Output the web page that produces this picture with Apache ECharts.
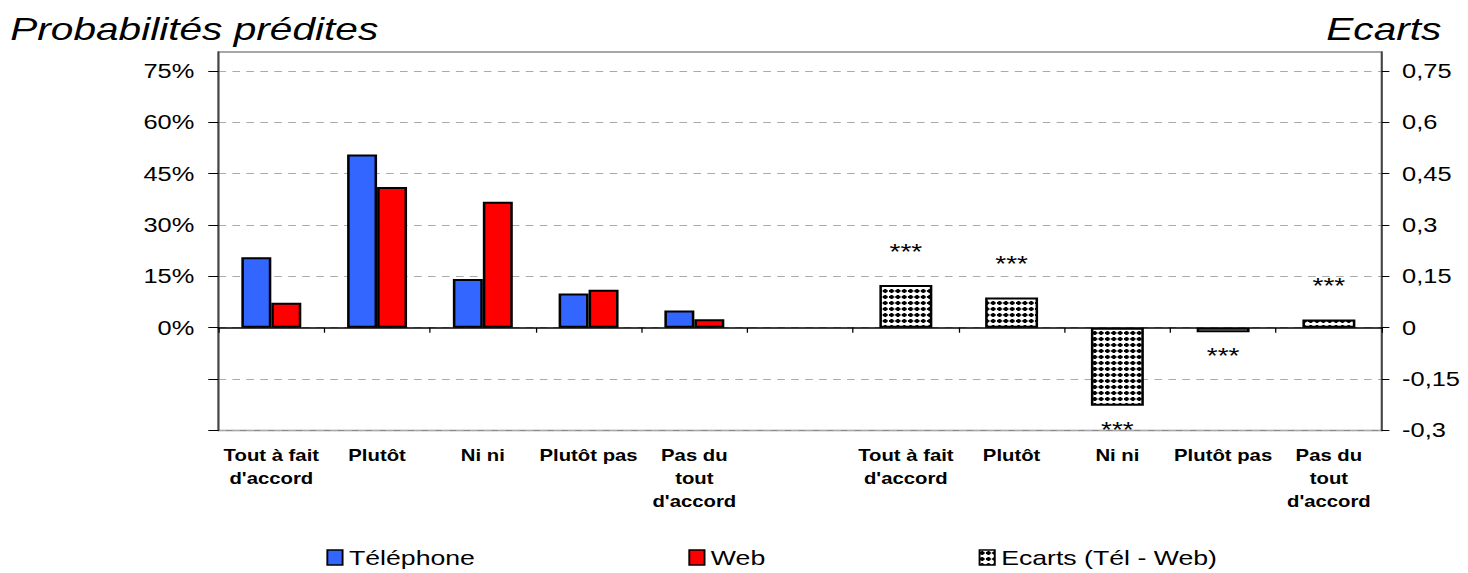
<!DOCTYPE html>
<html>
<head>
<meta charset="utf-8">
<script src="https://cdn.jsdelivr.net/npm/echarts@6/dist/echarts.min.js"></script>
<style>
  html, body { margin: 0; padding: 0; background: #fff; overflow: hidden; }
  /* the reference is stretched sideways, so the chart is drawn narrow and widened */
  #chart { width: 1156px; height: 573px; transform: scaleX(1.27); transform-origin: 0 0; }
</style>
</head>
<body>
<div id="chart"></div>
<script>
const categories = [
  "Tout à fait\nd'accord", 'Plutôt', 'Ni ni', 'Plutôt pas', "Pas du\ntout\nd'accord",
  '',
  "Tout à fait\nd'accord", 'Plutôt', 'Ni ni', 'Plutôt pas', "Pas du\ntout\nd'accord"
];
const telephone = [0.206, 0.506, 0.142, 0.100, 0.050];
const web = [0.073, 0.411, 0.368, 0.111, 0.025];
const ecarts = [0.125, 0.088, -0.228, -0.013, 0.024];
const signif = ['***', '***', '***', '***', '***'];
const yTicks = [-0.3, -0.15, 0, 0.15, 0.3, 0.45, 0.6, 0.75];

const FONT = 'Liberation Sans, Arial, sans-serif';

// dotted fill for the gap bars
function makePattern(){
  const c = document.createElement('canvas');
  c.width = 5;
  c.height = 6;
  const ctx = c.getContext('2d');
  ctx.fillStyle = '#fff';
  ctx.fillRect(0, 0, 5, 6);
  ctx.fillStyle = '#000';
  ctx.fillRect(0, 2, 4, 2);
  ctx.fillRect(1, 1, 2, 4);
  return c.toDataURL();
}
const pattern = { image: makePattern(), repeat: 'repeat' };

const empty = categories.slice(5).map(() => null);
const telData = telephone.concat(empty);
const webData = web.concat(empty);
const ecartsData = categories.slice(0, 6).map(() => null).concat(
  ecarts.map((v, i) => ({
    value: v,
    label: {
      show: true,
      position: v >= 0 ? 'top' : 'bottom',
      distance: v >= 0 ? 23 : 12,
      formatter: signif[i]
    }
  }))
);

const chart = echarts.init(document.getElementById('chart'), null, { renderer: 'svg' });

const option = {
  animation: false,
  title: [
    {
      text: 'Probabilités prédites',
      left: 8,
      top: 13,
      padding: 0,
      textStyle: { fontFamily: FONT, fontSize: 32, fontStyle: 'italic', fontWeight: 'normal', color: '#000' }
    },
    {
      text: 'Ecarts',
      right: 21,
      top: 13,
      padding: 0,
      textStyle: { fontFamily: FONT, fontSize: 32, fontStyle: 'italic', fontWeight: 'normal', color: '#000' }
    }
  ],
  legend: {
    left: 252,
    top: 542,
    itemGap: 168,
    itemWidth: 12,
    itemHeight: 15,
    icon: 'rect',
    itemStyle: { borderColor: '#000', borderWidth: 1.5 },
    textStyle: { fontFamily: FONT, fontSize: 21, color: '#000' },
    data: ['Téléphone', 'Web', 'Ecarts (Tél - Web)']
  },
  grid: {
    left: 172,
    right: 68,
    top: 52,
    bottom: 142.5,
    show: true,
    borderColor: '#8a8a8a',
    borderWidth: 1.5
  },
  xAxis: [
    {
      type: 'category',
      data: categories,
      position: 'bottom',
      axisLine: { onZero: true, lineStyle: { color: '#000', width: 1.5 } },
      axisTick: { show: true, interval: 0, length: 5, lineStyle: { color: '#000', width: 1 } },
      axisLabel: { show: false },
      splitLine: { show: false }
    },
    {
      type: 'category',
      data: categories,
      position: 'bottom',
      axisLine: { show: false, onZero: false },
      axisTick: { show: false },
      axisLabel: {
        interval: 0,
        margin: 13,
        fontFamily: FONT,
        fontSize: 16,
        fontWeight: 'bold',
        lineHeight: 23,
        color: '#000'
      },
      splitLine: { show: false }
    }
  ],
  yAxis: [
    {
      type: 'value',
      min: -0.3,
      max: 0.805,
      interval: 0.15,
      position: 'left',
      axisLine: { show: true, lineStyle: { color: '#444', width: 1.5 } },
      axisTick: { show: true, length: 8, customValues: yTicks, lineStyle: { color: '#000' } },
      axisLabel: {
        customValues: yTicks,
        margin: 19,
        fontFamily: FONT,
        fontSize: 20,
        color: '#000',
        formatter: v => v >= -0.0001 ? Math.round(v * 100) + '%' : ''
      },
      splitLine: { show: true, lineStyle: { color: '#aaa', type: [6, 5], width: 1.2 } }
    },
    {
      type: 'value',
      min: -0.3,
      max: 0.805,
      interval: 0.15,
      position: 'right',
      axisLine: { show: true, lineStyle: { color: '#444', width: 1.5 } },
      axisTick: { show: true, length: 6, customValues: yTicks, lineStyle: { color: '#000' } },
      axisLabel: {
        customValues: yTicks,
        margin: 16,
        fontFamily: FONT,
        fontSize: 20,
        color: '#000',
        formatter: v => String(Math.round(v * 100) / 100).replace('.', ',')
      },
      splitLine: { show: false }
    }
  ],
  series: [
    {
      name: 'Téléphone',
      type: 'bar',
      xAxisIndex: 0,
      yAxisIndex: 0,
      barWidth: 23.6,
      barGap: '0%',
      itemStyle: { color: '#3366ff', borderColor: '#000', borderWidth: 2 },
      data: telData
    },
    {
      name: 'Web',
      type: 'bar',
      xAxisIndex: 0,
      yAxisIndex: 0,
      barWidth: 23.6,
      barGap: '0%',
      itemStyle: { color: '#ff0000', borderColor: '#000', borderWidth: 2 },
      data: webData
    },
    {
      name: 'Ecarts (Tél - Web)',
      type: 'bar',
      xAxisIndex: 1,
      yAxisIndex: 1,
      barWidth: 41.7,
      itemStyle: { color: pattern, borderColor: '#000', borderWidth: 2 },
      label: { fontFamily: FONT, fontSize: 22, color: '#000' },
      data: ecartsData
    }
  ]
};

chart.setOption(option);
</script>
</body>
</html>
